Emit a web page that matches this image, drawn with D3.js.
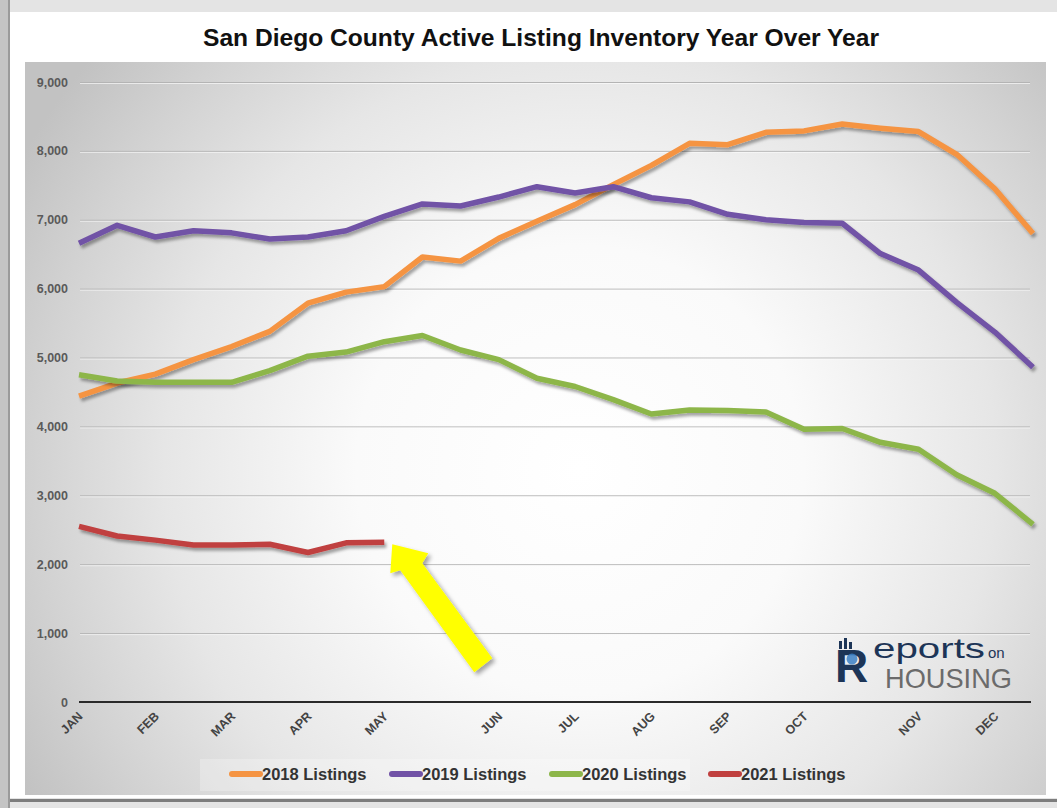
<!DOCTYPE html>
<html>
<head>
<meta charset="utf-8">
<script src="https://cdn.jsdelivr.net/npm/d3@7/dist/d3.min.js"></script>
<style>
  html, body { margin: 0; padding: 0; background: #ffffff; }
  svg { display: block; font-family: "Liberation Sans", Arial, sans-serif; }
</style>
</head>
<body>
<svg id="chart" width="1057" height="808"></svg>
<script>
// ---------------- DATA ----------------
const chartTitle = "San Diego County Active Listing Inventory Year Over Year";
// 26 bi-weekly reporting periods; month names shown on the axis
const periodLabels = ["JAN","","FEB","","MAR","","APR","","MAY","","","JUN","","JUL","","AUG","","SEP","","OCT","","","NOV","","DEC",""];
const yTicks = [0, 1000, 2000, 3000, 4000, 5000, 6000, 7000, 8000, 9000];
const seriesNames = ["2018 Listings", "2019 Listings", "2020 Listings", "2021 Listings"];
const listings2018 = [4440, 4630, 4760, 4970, 5160, 5380, 5790, 5950, 6030, 6460, 6400, 6730, 6980, 7220, 7510, 7790, 8110, 8090, 8270, 8290, 8390, 8330, 8280, 7950, 7450, 6800];
const listings2019 = [6660, 6920, 6750, 6840, 6810, 6720, 6750, 6840, 7050, 7230, 7200, 7330, 7480, 7390, 7480, 7320, 7260, 7080, 7000, 6960, 6950, 6510, 6270, 5800, 5370, 4860];
const listings2020 = [4750, 4660, 4640, 4640, 4640, 4810, 5020, 5080, 5230, 5320, 5110, 4970, 4700, 4580, 4390, 4180, 4240, 4230, 4210, 3960, 3970, 3770, 3670, 3300, 3030, 2580];
const listings2021 = [2550, 2410, 2350, 2280, 2280, 2290, 2170, 2310, 2320];
const seriesColors = ["#F59443", "#7152A6", "#8DB64A", "#C0403F"];

// ---------------- SETUP ----------------
const W = 1057, H = 808;
const svg = d3.select("#chart");
const defs = svg.append("defs");

const rg = defs.append("radialGradient").attr("id", "plotBg")
  .attr("gradientUnits", "userSpaceOnUse")
  .attr("cx", 580).attr("cy", 470).attr("r", 640);
[[0, "#ffffff"], [0.35, "#fafafa"], [0.65, "#e6e6e6"], [0.85, "#d2d2d2"], [1, "#c2c2c2"]]
  .forEach(([o, c]) => rg.append("stop").attr("offset", o).attr("stop-color", c));

const sh = defs.append("filter").attr("id", "lineShadow")
  .attr("x", "-5%").attr("y", "-10%").attr("width", "110%").attr("height", "130%");
sh.append("feDropShadow").attr("dx", 2).attr("dy", 3).attr("stdDeviation", 1.6)
  .attr("flood-color", "#000").attr("flood-opacity", 0.35);

const sh2 = defs.append("filter").attr("id", "arrowShadow")
  .attr("x", "-20%").attr("y", "-20%").attr("width", "150%").attr("height", "150%");
sh2.append("feDropShadow").attr("dx", 3).attr("dy", 3).attr("stdDeviation", 2)
  .attr("flood-color", "#000").attr("flood-opacity", 0.35);

// ---------------- FRAME ----------------
svg.append("rect").attr("x", 0).attr("y", 0).attr("width", W).attr("height", H).attr("fill", "#e4e4e4");
svg.append("rect").attr("x", 0).attr("y", 0).attr("width", 8).attr("height", H).attr("fill", "#c4c4c4");
svg.append("rect").attr("x", 8).attr("y", 0).attr("width", 2).attr("height", H).attr("fill", "#9a9a9a");
svg.append("rect").attr("x", 10).attr("y", 12).attr("width", W - 10).attr("height", 786).attr("fill", "#ffffff");
svg.append("rect").attr("x", 10).attr("y", 799).attr("width", W - 10).attr("height", 3).attr("fill", "#7d7d7d");
svg.append("rect").attr("x", 25).attr("y", 62).attr("width", 1021).attr("height", 733).attr("fill", "url(#plotBg)");

// ---------------- TITLE ----------------
svg.append("text").attr("x", 541).attr("y", 46).attr("text-anchor", "middle")
  .attr("font-size", 24).attr("font-weight", "bold").attr("fill", "#111")
  .attr("textLength", 676).attr("lengthAdjust", "spacingAndGlyphs")
  .text(chartTitle);

// ---------------- SCALES ----------------
const x = d3.scalePoint().domain(d3.range(periodLabels.length)).range([79, 1033]);
const y = d3.scaleLinear().domain([0, 9000]).range([702, 82]);

// gridlines
svg.append("g").selectAll("line").data(yTicks.filter(d => d > 0)).join("line")
  .attr("x1", 80).attr("x2", 1030)
  .attr("y1", d => y(d) + 0.5).attr("y2", d => y(d) + 0.5)
  .attr("stroke", "#b4b4b4").attr("stroke-width", 1);
svg.append("g").selectAll("line").data(yTicks.filter(d => d > 0)).join("line")
  .attr("x1", 80).attr("x2", 1030)
  .attr("y1", d => y(d) + 1.5).attr("y2", d => y(d) + 1.5)
  .attr("stroke", "#ffffff").attr("stroke-opacity", 0.6).attr("stroke-width", 1);

// y axis
const yAxis = d3.axisLeft(y).tickValues(yTicks).tickFormat(d3.format(",")).tickSize(0).tickPadding(0);
const gy = svg.append("g").attr("transform", "translate(68,0)").call(yAxis);
gy.select(".domain").remove();
gy.selectAll("text").attr("font-size", 12.5).attr("font-weight", "bold").attr("fill", "#5a5a5a")
  .attr("font-family", "Liberation Sans, Arial, sans-serif");

// x axis
const xAxis = d3.axisBottom(x).tickFormat(i => periodLabels[i]).tickSize(0).tickPadding(0);
const gx = svg.append("g").attr("transform", `translate(0,${y(0)})`).call(xAxis);
gx.select(".domain").remove();
gx.selectAll("text")
  .attr("font-size", 12.5).attr("font-weight", "bold").attr("fill", "#444")
  .attr("font-family", "Liberation Sans, Arial, sans-serif")
  .attr("text-anchor", "end").attr("dy", null).attr("y", 0)
  .attr("transform", "translate(4,15) rotate(-45)");
svg.append("line").attr("x1", 79).attr("x2", 1031).attr("y1", y(0)).attr("y2", y(0))
  .attr("stroke", "#2a2a2a").attr("stroke-width", 2);

// ---------------- LOGO ----------------
const logo = svg.append("g");
logo.append("text").attr("x", 835).attr("y", 682).attr("font-size", 46).attr("font-weight", "bold")
  .attr("fill", "#1d3557").text("R");
logo.append("circle").attr("cx", 852).attr("cy", 659).attr("r", 5.5).attr("fill", "#3b7fc4").attr("opacity", 0.85);
[[839, 641, 3, 8], [844, 638, 3, 11], [849, 642, 3, 7]].forEach(([a, b, w, h]) =>
  logo.append("rect").attr("x", a).attr("y", b).attr("width", w).attr("height", h).attr("fill", "#1d3557"));
logo.append("text").attr("x", 873).attr("y", 658).attr("font-size", 28).attr("fill", "#1d3557")
  .attr("textLength", 112).attr("lengthAdjust", "spacingAndGlyphs").text("eports");
logo.append("text").attr("x", 988).attr("y", 658).attr("font-size", 15).attr("fill", "#1d3557")
  .text("on");
logo.append("text").attr("x", 885).attr("y", 688).attr("font-size", 28).attr("fill", "#6b6b6b")
  .attr("textLength", 127).attr("lengthAdjust", "spacingAndGlyphs").text("HOUSING");

// ---------------- LINES ----------------
const allSeries = [listings2018, listings2019, listings2020, listings2021];
const line = d3.line().x((d, i) => x(i)).y(d => y(d));
svg.append("g").selectAll("path").data(allSeries).join("path")
  .attr("d", d => line(d))
  .attr("fill", "none")
  .attr("stroke", (d, i) => seriesColors[i])
  .attr("stroke-width", 5.5)
  .attr("stroke-linejoin", "round")
  .attr("filter", "url(#lineShadow)");

// ---------------- ARROW (points at latest 2021 value) ----------------
const lastIdx = listings2021.length - 1;
const tipX = x(lastIdx) + 8, tipY = y(listings2021[lastIdx]) + 2;
const arrowPts = [[0, 0], [36, 9], [30, 19], [100, 114], [82, 128], [8, 26], [-2, 29]];
svg.append("path")
  .attr("d", "M" + arrowPts.map(([a, b]) => (tipX + a) + "," + (tipY + b)).join("L") + "Z")
  .attr("fill", "#FFFF00").attr("filter", "url(#arrowShadow)");

// ---------------- LEGEND ----------------
const legend = svg.append("g");
legend.append("rect").attr("x", 200).attr("y", 759).attr("width", 490).attr("height", 32)
  .attr("fill", "#ffffff").attr("opacity", 0.25);
const legendX = [230, 390, 550, 709];
seriesNames.forEach((name, i) => {
  const g = legend.append("g").attr("transform", `translate(${legendX[i]},774)`);
  g.append("line").attr("x1", 2).attr("x2", 30).attr("y1", 0).attr("y2", 0)
    .attr("stroke", seriesColors[i]).attr("stroke-width", 6).attr("stroke-linecap", "round");
  g.append("text").attr("x", 32).attr("y", 6).attr("font-size", 16.5).attr("font-weight", "bold")
    .attr("fill", "#333").text(name);
});
</script>
</body>
</html>
